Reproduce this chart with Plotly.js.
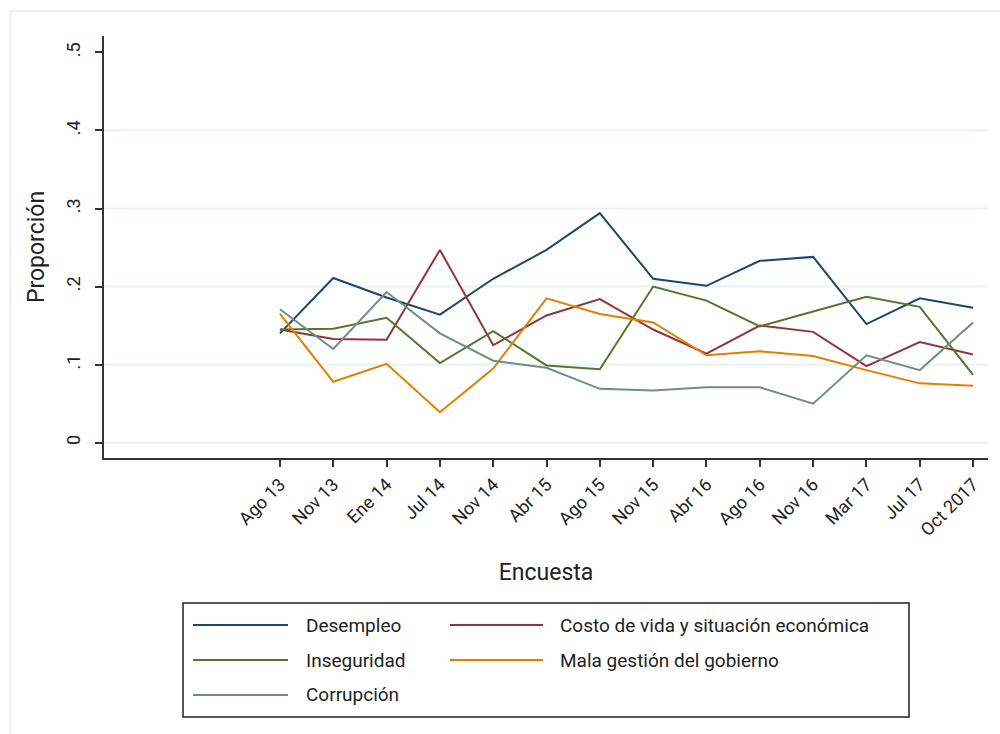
<!DOCTYPE html>
<html>
<head>
<meta charset="utf-8">
<script src="https://cdn.plot.ly/plotly-3.0.1.min.js"></script>
<style>html,body{margin:0;padding:0;background:#fff;}#chart{width:1000px;height:734px;}</style>
</head>
<body>
<div id="chart"></div>
<script>
const surveys = ["Ago 13","Nov 13","Ene 14","Jul 14","Nov 14","Abr 15","Ago 15","Nov 15","Abr 16","Ago 16","Nov 16","Mar 17","Jul 17","Oct 2017"];
const desempleo   = [0.140,0.211,0.186,0.164,0.210,0.247,0.294,0.210,0.201,0.233,0.238,0.152,0.185,0.173];
const costoVida   = [0.145,0.133,0.132,0.247,0.125,0.163,0.184,0.145,0.114,0.150,0.142,0.098,0.129,0.113];
const inseguridad = [0.145,0.146,0.160,0.102,0.143,0.099,0.094,0.200,0.182,0.149,0.168,0.187,0.174,0.087];
const malaGestion = [0.165,0.078,0.101,0.039,0.095,0.185,0.165,0.154,0.112,0.117,0.111,0.093,0.076,0.073];
const corrupcion  = [0.171,0.120,0.193,0.140,0.105,0.096,0.069,0.067,0.071,0.071,0.050,0.112,0.093,0.154];
const seriesNames = ["Desempleo","Costo de vida y situación económica","Inseguridad","Mala gestión del gobierno","Corrupción"];
const seriesColors = ["#1a476f","#90353b","#55752f","#e37e00","#6e8e84"];
const seriesValues = [desempleo, costoVida, inseguridad, malaGestion, corrupcion];
const yTickVals = [0,0.1,0.2,0.3,0.4,0.5];
const yTickText = ["0",".1",".2",".3",".4",".5"];
const gridVals = [0,0.1,0.2,0.3,0.4];

const FONT = "Roboto, DejaVu Sans, sans-serif";
const xIdx = surveys.map((s,i)=>i);

const traces = seriesValues.map((v,k)=>({
  type:"scatter", mode:"lines", x:xIdx, y:v, name:seriesNames[k],
  line:{color:seriesColors[k], width:2}, showlegend:false, hoverinfo:"x+y+name"
}));

// plot area pixels: x 104..988, y 36..458
const L=104, R=988, T=36, B=458;
const px = p => (p-L)/(R-L);
const py = p => (B-p)/(B-T);

const shapes = [];
const annotations = [];
// outer light frame
shapes.push({type:"rect", xref:"paper", yref:"paper", x0:px(10.5), x1:px(1012), y0:py(11), y1:py(750),
  line:{color:"#eaf2f3", width:2}, fillcolor:"rgba(0,0,0,0)", layer:"below"});
// gridlines
gridVals.forEach(g=>shapes.push({type:"line", xref:"paper", yref:"y", x0:0, x1:1, y0:g, y1:g,
  line:{color:"#eaf2f3", width:2}, layer:"below"}));
// legend box
shapes.push({type:"rect", xref:"paper", yref:"paper", x0:px(183), x1:px(909), y0:py(603), y1:py(717),
  line:{color:"#222", width:1.5}, fillcolor:"#fff"});
const cols = [[193,288,304],[450,543,558]];
const rows = [625,660,695];
seriesNames.forEach((n,k)=>{
  const c = cols[k%2], r = rows[Math.floor(k/2)];
  shapes.push({type:"line", xref:"paper", yref:"paper", x0:px(c[0]), x1:px(c[1]), y0:py(r), y1:py(r),
    line:{color:seriesColors[k], width:2}});
  annotations.push({xref:"paper", yref:"paper", x:px(c[2]), y:py(r), xanchor:"left", yanchor:"middle",
    text:n, showarrow:false, font:{family:FONT, size:19, color:"#222"}});
});

const layout = {
  width:1000, height:734,
  margin:{l:L, r:1000-R, t:T, b:734-B, pad:0},
  paper_bgcolor:"#fff", plot_bgcolor:"#fff",
  font:{family:FONT, color:"#222"},
  xaxis:{range:[-3.3,13.28], tickvals:xIdx, ticktext:surveys, tickangle:-45,
    showgrid:false, zeroline:false, showline:true, linecolor:"#333", linewidth:2,
    ticks:"outside", ticklen:7, tickwidth:1.5, tickcolor:"#333",
    tickfont:{family:FONT, size:18, color:"#222"},
    title:{text:"Encuesta", font:{family:FONT, size:23, color:"#222"}, standoff:25}},
  yaxis:{range:[-0.0196,0.521], tickvals:yTickVals, ticktext:yTickText, tickangle:-90,
    showgrid:false, zeroline:false, showline:true, linecolor:"#333", linewidth:2,
    ticks:"outside", ticklen:7, tickwidth:1.5, tickcolor:"#333", ticklabelstandoff:8,
    tickfont:{family:FONT, size:18, color:"#222"},
    title:{text:"Proporción", font:{family:FONT, size:23, color:"#222"}, standoff:12}},
  shapes:shapes, annotations:annotations, showlegend:false
};
Plotly.newPlot("chart", traces, layout, {staticPlot:false, displayModeBar:false});
</script>
</body>
</html>
